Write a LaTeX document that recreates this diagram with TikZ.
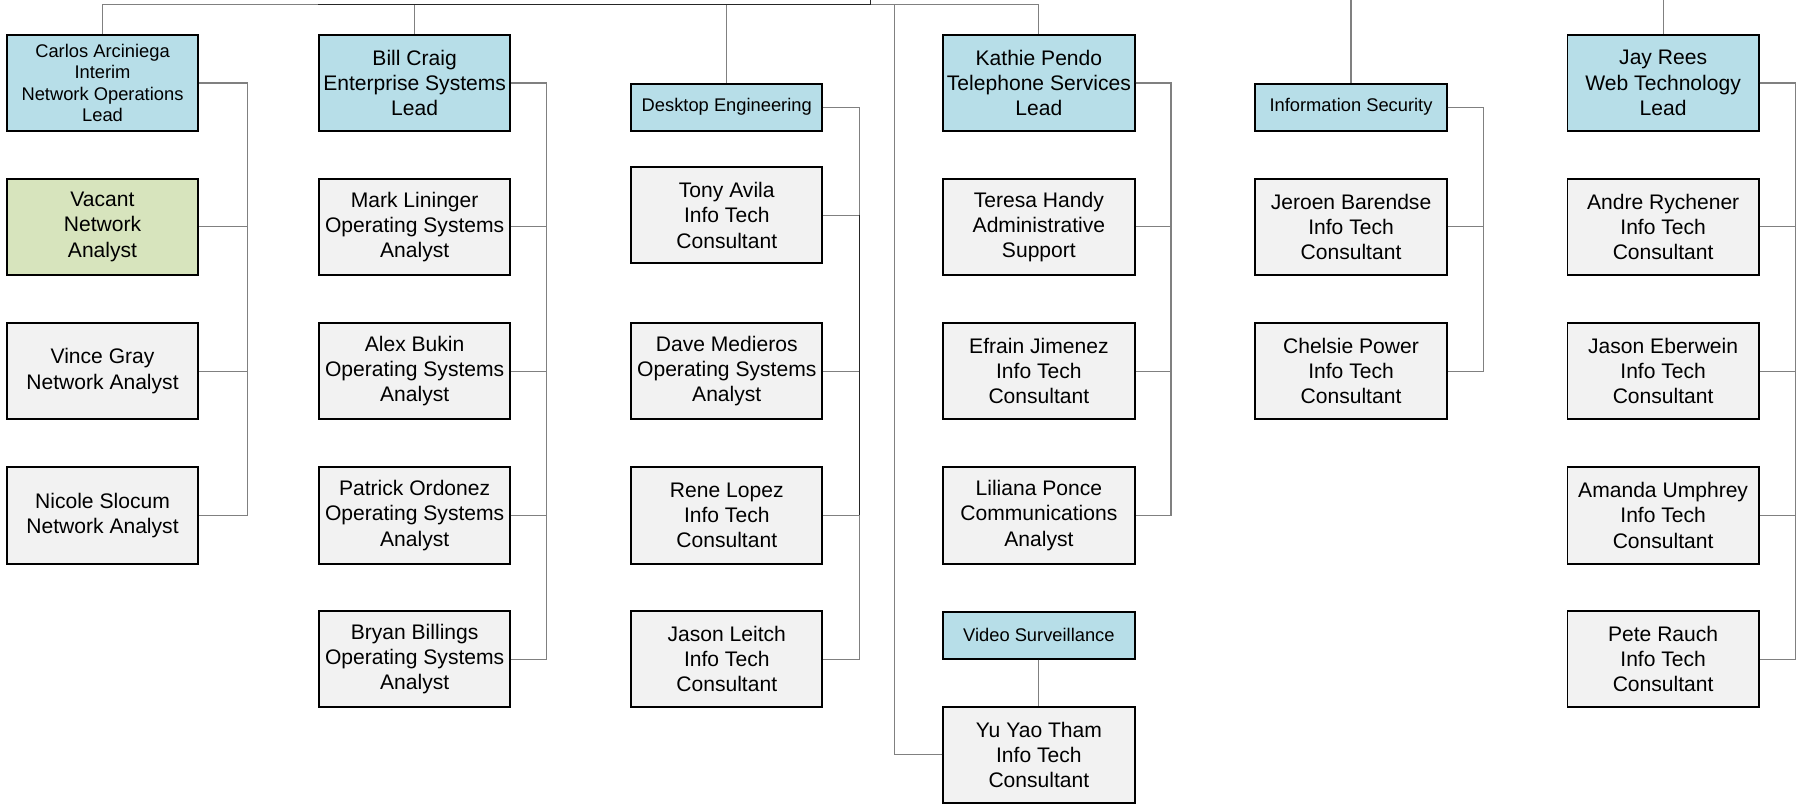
\documentclass[tikz,border=0pt]{standalone}
\usepackage{fontspec}
\setmainfont{Liberation Sans}
\usetikzlibrary{calc}
\definecolor{leadblue}{HTML}{B7DEE8}
\definecolor{staffgray}{HTML}{F2F2F2}
\definecolor{vacgreen}{HTML}{D7E4BD}
\definecolor{linegray}{HTML}{808080}
\begin{document}
\begin{tikzpicture}[x=1pt,y=-1pt,
		box/.style={draw=black,line width=1.7pt,rectangle,align=center,inner sep=0pt,minimum width=167pt,minimum height=84pt,font=\fontsize{18.4}{22}\selectfont},
		staff/.style={box,fill=staffgray},
		lead/.style={box,fill=leadblue},
		vacant/.style={box,fill=vacgreen},
		smalltext/.style={font=\fontsize{16}{18.8}\selectfont},
		unit/.style={lead,smalltext,minimum height=41pt},
		conn/.style={draw=linegray,line width=1pt},
		dark/.style={draw=black!85,line width=1.3pt}]
		\useasboundingbox (0,0) rectangle (1568,702);

		\coordinate (up) at (760,0);
		\coordinate (bus) at (760,4);
		\coordinate (busl) at (278,4);
		\coordinate (drop) at (781,4);

		\node[lead,smalltext] (carlos) at (89.5,72.5) {Carlos Arciniega\\Interim\\Network Operations\\Lead};
		\node[vacant] (vacant) at (89.5,198) {Vacant\\Network\\Analyst};
		\node[staff] (vince) at (89.5,324) {Vince Gray\\Network Analyst};
		\node[staff] (nicole) at (89.5,450) {Nicole Slocum\\Network Analyst};

		\node[lead] (bill) at (362,72.5) {Bill Craig\\Enterprise Systems\\Lead};
		\node[staff] (mark) at (362,198) {Mark Lininger\\Operating Systems\\Analyst};
		\node[staff] (alex) at (362,324) {Alex Bukin\\Operating Systems\\Analyst};
		\node[staff] (patrick) at (362,450) {Patrick Ordonez\\Operating Systems\\Analyst};
		\node[staff] (bryan) at (362,575.5) {Bryan Billings\\Operating Systems\\Analyst};

		\node[unit] (desktop) at (634.5,93.5) {Desktop Engineering};
		\node[staff] (tony) at (634.5,188) {Tony Avila\\Info Tech\\Consultant};
		\node[staff] (dave) at (634.5,324) {Dave Medieros\\Operating Systems\\Analyst};
		\node[staff] (rene) at (634.5,450) {Rene Lopez\\Info Tech\\Consultant};
		\node[staff] (jason) at (634.5,575.5) {Jason Leitch\\Info Tech\\Consultant};

		\node[lead] (kathie) at (907,72.5) {Kathie Pendo\\Telephone Services\\Lead};
		\node[staff] (teresa) at (907,198) {Teresa Handy\\Administrative\\Support};
		\node[staff] (efrain) at (907,324) {Efrain Jimenez\\Info Tech\\Consultant};
		\node[staff] (liliana) at (907,450) {Liliana Ponce\\Communications\\Analyst};
		\node[unit] (video) at (907,554.5) {Video Surveillance};
		\node[staff] (yuyao) at (907,659) {Yu Yao Tham\\Info Tech\\Consultant};

		\node[unit] (infosec) at (1179.5,93.5) {Information Security};
		\node[staff] (jeroen) at (1179.5,198) {Jeroen Barendse\\Info Tech\\Consultant};
		\node[staff] (chelsie) at (1179.5,324) {Chelsie Power\\Info Tech\\Consultant};

		\node[lead] (jay) at (1452,72.5) {Jay Rees\\Web Technology\\Lead};
		\node[staff] (andre) at (1452,198) {Andre Rychener\\Info Tech\\Consultant};
		\node[staff] (jasone) at (1452,324) {Jason Eberwein\\Info Tech\\Consultant};
		\node[staff] (amanda) at (1452,450) {Amanda Umphrey\\Info Tech\\Consultant};
		\node[staff] (pete) at (1452,575.5) {Pete Rauch\\Info Tech\\Consultant};

		\foreach \n in {carlos,bill,desktop,kathie}
			\draw[conn] (\n.north) |- (bus);
		\draw[conn] (yuyao.west) -| (drop);
		\draw[conn] (infosec.north) -- (infosec.north |- up);
		\draw[conn] (jay.north) -- (jay.north |- up);

		\foreach \n in {vacant,vince,nicole}
			\draw[conn] (carlos.east) -- ++(42,0) |- (\n.east);
		\foreach \n in {mark,alex,patrick,bryan}
			\draw[conn] (bill.east) -- ++(31,0) |- (\n.east);
		\foreach \n in {tony,dave,rene,jason}
			\draw[conn] (desktop.east) -- ++(31.5,0) |- (\n.east);
		\foreach \n in {teresa,efrain,liliana}
			\draw[conn] (kathie.east) -- ++(31,0) |- (\n.east);
		\draw[conn] (video.south) -- (yuyao.north);
		\foreach \n in {jeroen,chelsie}
			\draw[conn] (infosec.east) -- ++(31.5,0) |- (\n.east);
		\foreach \n in {andre,jasone,amanda,pete}
			\draw[conn] (jay.east) -- ++(31,0) |- (\n.east);

		\draw[dark] (up) -- (bus) -- (busl);
		\draw[dark] ($(tony.east)+(31.5,0)$) coordinate (tb) -- (tb |- rene.east);
	\end{tikzpicture}
\end{document}
